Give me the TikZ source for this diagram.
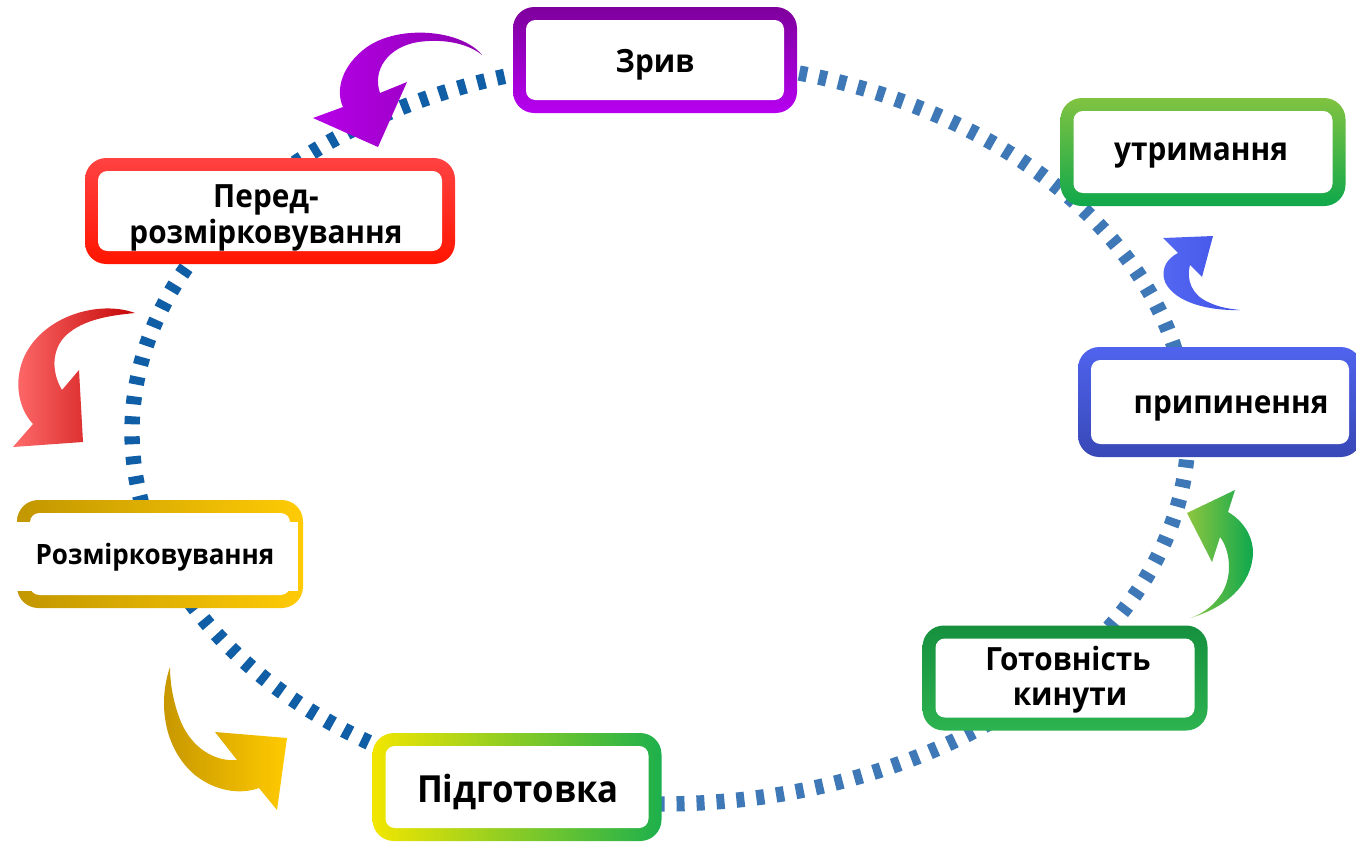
\documentclass[tikz,border=0pt]{standalone}
\usepackage{fontspec}
\setmainfont{Open Sans}[FakeStretch=0.93]
\definecolor{ringL}{HTML}{105EA6}
\definecolor{ringR}{HTML}{3F78B6}
\definecolor{zrivT}{HTML}{7E009C}
\definecolor{zrivB}{HTML}{B600F0}
\definecolor{utrT}{HTML}{80C341}
\definecolor{utrB}{HTML}{10A84B}
\definecolor{prypT}{HTML}{4F63EE}
\definecolor{prypB}{HTML}{3848B6}
\definecolor{gotT}{HTML}{16903E}
\definecolor{gotB}{HTML}{2DB350}
\definecolor{pidL}{HTML}{F2E600}
\definecolor{pidM}{HTML}{9ACD10}
\definecolor{pidR}{HTML}{1DB04C}
\definecolor{rozL}{HTML}{C29700}
\definecolor{rozR}{HTML}{FFCB05}
\definecolor{perT}{HTML}{FF4242}
\definecolor{perB}{HTML}{FF1500}
\definecolor{arPurL}{HTML}{B600E8}
\definecolor{arPurR}{HTML}{8E00B2}
\definecolor{arRedL}{HTML}{FF6B6B}
\definecolor{arRedR}{HTML}{C40606}
\definecolor{arGoldL}{HTML}{C49500}
\definecolor{arGoldR}{HTML}{FFCA00}
\definecolor{arBlueL}{HTML}{5468F2}
\definecolor{arBlueR}{HTML}{4252E6}
\definecolor{arGrnL}{HTML}{8DC63F}
\definecolor{arGrnR}{HTML}{0EA84E}
\begin{document}
\begin{tikzpicture}[x=0.75pt,y=-0.75pt,
  ring/.style={line width=11.5pt, dash pattern=on 6pt off 9pt},
  boxout/.style={rounded corners=16pt, inner sep=0pt, draw=none},
  boxin/.style={fill=white, rounded corners=7pt, inner sep=0pt, draw=none},
  lbl/.style={inner sep=0pt, anchor=base, font=\bfseries\fontsize{24}{28}\selectfont},
]
\useasboundingbox (0,0) rectangle (1356,844);
\clip (0,0) rectangle (1356,844);
\fill[white] (0,0) rectangle (1356,844);

% dashed ring
\draw[ring, ringL] (660,804) arc[start angle=90, end angle=270, x radius=528, y radius=372];
\draw[ring, ringR] (660,60) arc[start angle=270, end angle=450, x radius=528, y radius=372];

% curved arrows
\shade[left color=arPurL, right color=arPurR]
  (482,55) .. controls (462,30) and (400,24) .. (367,47)
  .. controls (342,65) and (335,90) .. (343,107)
  -- (313,118) -- (378,147) -- (407,82) -- (380,93)
  .. controls (372,70) and (388,47) .. (418,42)
  .. controls (447,38) and (470,45) .. (482,55) -- cycle;

\shade[left color=arRedL, right color=arRedR]
  (135,313) .. controls (100,300) and (45,315) .. (25,355)
  .. controls (13,380) and (18,408) .. (33,424)
  -- (13,447) -- (83,442) -- (79,370) -- (62,390)
  .. controls (50,370) and (52,345) .. (70,332)
  .. controls (88,318) and (115,315) .. (135,313) -- cycle;

\shade[left color=arGoldL, right color=arGoldR]
  (170,667) .. controls (157,705) and (165,750) .. (195,775)
  .. controls (215,791) and (240,795) .. (259,788)
  -- (277,810) -- (287,738) -- (215,732) -- (237,760)
  .. controls (215,762) and (192,748) .. (181,722)
  .. controls (174,705) and (170,685) .. (170,667) -- cycle;

\shade[left color=arBlueL, right color=arBlueR]
  (1240,310) .. controls (1210,311) and (1175,303) .. (1165,282)
  .. controls (1160,268) and (1168,258) .. (1178,253)
  -- (1163,238) -- (1213,236) -- (1202,277) -- (1190,265)
  .. controls (1186,280) and (1192,295) .. (1208,302)
  .. controls (1220,308) and (1232,309) .. (1240,310) -- cycle;

\shade[left color=arGrnL, right color=arGrnR]
  (1190,618) .. controls (1225,608) and (1252,585) .. (1253,553)
  .. controls (1253,535) and (1242,520) .. (1228,512)
  -- (1235,490) -- (1187,513) -- (1212,562) -- (1220,537)
  .. controls (1230,550) and (1233,575) .. (1222,593)
  .. controls (1212,608) and (1200,615) .. (1190,618) -- cycle;

% boxes
\node[boxout, top color=zrivT, bottom color=zrivB, minimum width=213pt, minimum height=79.5pt] (zriv) at (655,60) {};
\node[boxin, minimum width=193.5pt, minimum height=60pt] (zriv-in) at (zriv) {};
\node[lbl] (zriv-t) at (655,72) {Зрив};

\node[boxout, top color=utrT, bottom color=utrB, minimum width=213.75pt, minimum height=81pt] (utr) at (1203,152) {};
\node[boxin, minimum width=194.25pt, minimum height=61.5pt] (utr-in) at (utr) {};
\node[lbl] (utr-t) at (1201,160) {утримання};

\node[boxout, top color=prypT, bottom color=prypB, minimum width=213pt, minimum height=82.5pt] (pryp) at (1220,402) {};
\node[boxin, minimum width=193.5pt, minimum height=63pt] (pryp-in) at (pryp) {};
\node[lbl] (pryp-t) at (1231,413) {припинення};

\node[boxout, top color=gotT, bottom color=gotB, minimum width=213.75pt, minimum height=78.75pt] (got) at (1065,678) {};
\node[boxin, minimum width=194.25pt, minimum height=59.25pt] (got-in) at (got) {};
\node[lbl] (got-t1) at (1068,670) {Готовність};
\node[lbl] (got-t2) at (1070,705) {кинути};

\node[boxout, left color=pidL, middle color=pidM, right color=pidR, minimum width=216.75pt, minimum height=81pt] (pid) at (517,787) {};
\node[boxin, minimum width=197.25pt, minimum height=61.5pt] (pid-in) at (pid) {};
\node[lbl, font=\bfseries\fontsize{28}{34}\selectfont] (pid-t) at (518,802) {Підготовка};

\node[boxout, left color=rozL, right color=rozR, minimum width=214.5pt, minimum height=81pt] (roz) at (160,554) {};
\node[boxin, minimum width=195pt, minimum height=61.5pt] (roz-in) at (roz) {};
\node[fill=white, inner sep=0pt, minimum width=213.75pt, minimum height=51.75pt] (roz-band) at (155.5,556.5) {};
\node[lbl, font=\bfseries\fontsize{21}{25}\selectfont] (roz-t) at (155,564) {Розмірковування};

\node[boxout, top color=perT, bottom color=perB, minimum width=277.5pt, minimum height=79.5pt] (per) at (270,211) {};
\node[boxin, minimum width=258pt, minimum height=60pt] (per-in) at (per) {};
\node[lbl, font=\bfseries\fontsize{24}{28}\selectfont] (per-t1) at (266,207) {Перед-};
\node[lbl, font=\bfseries\fontsize{24}{28}\selectfont] (per-t2) at (266,243) {розмірковування};
\end{tikzpicture}
\end{document}
